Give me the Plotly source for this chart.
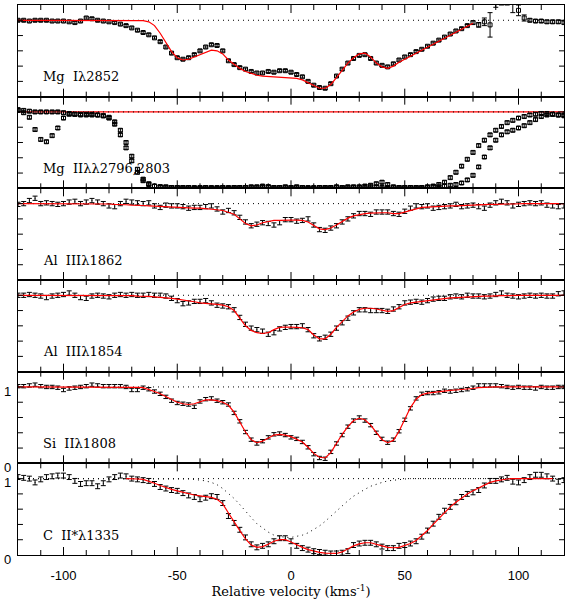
import plotly.graph_objects as go
from plotly.subplots import make_subplots

# velocity grid (km/s), 2.5 km/s sampling
V = [-120 + 2.5 * i for i in range(97)]

PANEL_LABELS = ["Mg\u00a0\u00a0I\u03bb2852", "Mg\u00a0\u00a0II\u03bb\u03bb2796,2803",
                "Al\u00a0\u00a0III\u03bb1862", "Al\u00a0\u00a0III\u03bb1854",
                "Si\u00a0\u00a0II\u03bb1808", "C\u00a0\u00a0II*\u03bb1335"]
X_TICKS = [-100, -50, 0, 50, 100]
X_TICKTEXT = ["-100", "-50", "0", "50", "100"]
X_MINOR_STEP = 10
Y_TICKS = [0, 0.2, 0.4, 0.6, 0.8, 1.0]
X_RANGE = [-120, 120]
Y_RANGE = [0, 1.2]
CONTINUUM = 1.0

# ---- Mg I 2852 ----
MG1_FLUX = [1.00, 1.00, 0.99, 1.00, 1.00, 1.00, 0.99, 0.99, 0.99, 0.98,
            0.97, 0.99, 1.03, 1.02, 1.00, 0.99, 0.98, 0.97, 0.95, 0.93,
            0.90, 0.87, 0.84, 0.81, 0.77, 0.72, 0.65, 0.57, 0.51, 0.49,
            0.51, 0.55, 0.60, 0.65, 0.68, 0.67, 0.60, 0.47, 0.42, 0.38,
            0.36, 0.33, 0.31, 0.31, 0.33, 0.32, 0.34, 0.34, 0.32, 0.29,
            0.26, 0.20, 0.15, 0.12, 0.11, 0.17, 0.27, 0.36, 0.44, 0.50,
            0.54, 0.55, 0.50, 0.44, 0.41, 0.39, 0.43, 0.48, 0.52, 0.55,
            0.59, 0.62, 0.66, 0.70, 0.74, 0.78, 0.82, 0.86, 0.89, 0.93,
            0.97, 0.94, 0.98, 0.94, 1.32, 1.40, 1.40, 1.30, 1.13, 1.03,
            1.00, 0.99, 0.99, 0.98, 0.98, 0.98, 0.97]
MG1_ERR = [0.015] * 80 + [0.02, 0.03, 0.05, 0.16, 0.15, 0.20, 0.20, 0.20, 0.07, 0.04,
                          0.02, 0.02, 0.02, 0.02, 0.02, 0.02, 0.02]
MG1_MODEL = [1.0, 1.0, 1.0, 1.0, 1.0, 1.0, 1.0, 1.0, 1.0, 1.0,
             1.0, 1.0, 1.0, 1.0, 1.0, 1.0, 1.0, 1.0, 1.0, 1.0,
             1.0, 1.0, 0.995, 0.98, 0.93, 0.83, 0.71, 0.59, 0.51, 0.48,
             0.49, 0.52, 0.55, 0.59, 0.61, 0.60, 0.56, 0.48, 0.42, 0.37,
             0.33, 0.30, 0.28, 0.27, 0.265, 0.26, 0.26, 0.255, 0.25, 0.24,
             0.22, 0.18, 0.14, 0.11, 0.11, 0.16, 0.25, 0.35, 0.44, 0.51,
             0.56, 0.57, 0.52, 0.44, 0.39, 0.37, 0.40, 0.45, 0.49, 0.53,
             0.57, 0.61, 0.65, 0.69, 0.73, 0.77, 0.81, 0.85, 0.89, 0.93,
             0.96, None, None, None, None, None, None, None, None, None,
             None, None, None, None, None, None, None]

# ---- Mg II 2796, 2803 ----
MG2_FLUX_A = [1.02, 0.99, 0.93, 0.77, 0.64, 0.61, 0.69, 0.79, 0.92, 0.97,
              0.97, 0.97, 0.97, 0.97, 0.96, 0.95, 0.93, 0.87, 0.76, 0.60,
              0.42, 0.25, 0.12, 0.06, 0.03, 0.02, 0.02, 0.01, 0.01, 0.01,
              0.01, 0.01, 0.00, 0.01, 0.01, 0.00, 0.01, 0.01, 0.01, 0.01,
              0.01, 0.01, 0.02, 0.03, 0.02, 0.01, 0.01, 0.02, 0.01, 0.01,
              0.01, 0.00, 0.01, 0.01, 0.01, 0.01, 0.02, 0.01, 0.01, 0.02,
              0.02, 0.03, 0.04, 0.06, 0.08, 0.05, 0.02, 0.01, 0.01, 0.01,
              0.01, 0.01, 0.02, 0.03, 0.05, 0.08, 0.14, 0.21, 0.29, 0.38,
              0.47, 0.56, 0.63, 0.70, 0.76, 0.81, 0.86, 0.89, 0.92, 0.94,
              0.96, 0.97, 0.98, 0.98, 0.97, 0.96, 0.96]
MG2_FLUX_B = [1.03, 1.02, 1.01, 1.00, 1.00, 1.00, 1.00, 1.00, 0.99, 0.98,
              0.97, 0.96, 0.96, 0.96, 0.96, 0.95, 0.92, 0.84, 0.70, 0.53,
              0.36, 0.21, 0.10, 0.05, 0.03, 0.02, 0.01, 0.01, 0.01, 0.01,
              0.01, 0.00, 0.01, 0.01, 0.00, 0.01, 0.01, 0.00, 0.01, 0.01,
              0.01, 0.02, 0.01, 0.01, 0.02, 0.01, 0.01, 0.01, 0.01, 0.02,
              0.01, 0.01, 0.00, 0.01, 0.01, 0.01, 0.01, 0.01, 0.02, 0.01,
              0.01, 0.01, 0.02, 0.02, 0.01, 0.01, 0.01, 0.01, 0.01, 0.01,
              0.01, 0.01, 0.01, 0.02, 0.02, 0.03, 0.04, 0.05, 0.07, 0.11,
              0.17, 0.28, 0.41, 0.53, 0.63, 0.70, 0.74, 0.76, 0.79, 0.82,
              0.86, 0.90, 0.94, 0.96, 0.97, 0.96, 0.95]
MG2_MODEL = [1.0] * 97

# ---- Al III 1862 ----
AL62_FLUX = [0.99, 1.00, 1.04, 1.07, 1.00, 1.01, 1.00, 0.99, 1.00, 1.02,
             1.03, 1.00, 1.02, 1.04, 1.02, 1.00, 0.97, 0.96, 1.00, 1.03,
             1.02, 1.01, 1.00, 1.01, 0.97, 0.95, 0.98, 0.97, 0.97, 0.96,
             0.94, 0.95, 0.95, 0.96, 0.97, 0.93, 0.89, 0.91, 0.88, 0.82,
             0.76, 0.71, 0.73, 0.75, 0.74, 0.72, 0.75, 0.79, 0.79, 0.77,
             0.78, 0.80, 0.72, 0.66, 0.65, 0.68, 0.71, 0.76, 0.80, 0.84,
             0.87, 0.87, 0.86, 0.89, 0.89, 0.89, 0.87, 0.86, 0.90, 0.94,
             0.97, 0.96, 0.97, 0.94, 0.95, 0.96, 0.97, 0.99, 0.96, 0.97,
             0.98, 0.96, 0.94, 0.98, 1.01, 1.03, 1.01, 0.97, 0.99, 1.00,
             1.01, 1.00, 1.01, 0.98, 0.97, 0.96, 0.97]
AL62_MODEL = [1.0, 1.0, 1.0, 1.0, 1.0, 1.0, 1.0, 1.0, 1.0, 1.0,
              1.0, 1.0, 1.0, 1.0, 1.0, 1.0, 0.995, 0.99, 0.99, 0.985,
              0.98, 0.98, 0.975, 0.97, 0.965, 0.96, 0.96, 0.955, 0.95, 0.95,
              0.945, 0.94, 0.94, 0.935, 0.93, 0.92, 0.91, 0.89, 0.86, 0.80,
              0.74, 0.71, 0.72, 0.75, 0.77, 0.78, 0.78, 0.785, 0.785, 0.785,
              0.78, 0.76, 0.71, 0.67, 0.66, 0.68, 0.72, 0.77, 0.81, 0.84,
              0.86, 0.87, 0.875, 0.88, 0.88, 0.88, 0.87, 0.87, 0.89, 0.92,
              0.94, 0.95, 0.955, 0.96, 0.96, 0.965, 0.97, 0.97, 0.975, 0.98,
              0.98, 0.985, 0.985, 0.99, 0.99, 0.995, 0.995, 0.995, 1.0, 1.0,
              1.0, 1.0, 1.0, 1.0, 1.0, 1.0, 1.0]

# ---- Al III 1854 ----
AL54_FLUX = [1.00, 1.00, 1.01, 1.00, 0.99, 0.97, 0.99, 1.00, 1.01, 1.03,
             1.00, 0.97, 0.96, 0.99, 1.00, 0.99, 0.98, 1.00, 1.01, 1.00,
             1.01, 1.00, 1.00, 1.01, 1.00, 1.00, 0.99, 0.96, 0.93, 0.89,
             0.90, 0.92, 0.92, 0.93, 0.90, 0.87, 0.86, 0.85, 0.81, 0.71,
             0.62, 0.57, 0.55, 0.53, 0.49, 0.51, 0.56, 0.58, 0.59, 0.59,
             0.60, 0.55, 0.47, 0.43, 0.45, 0.49, 0.57, 0.64, 0.70, 0.77,
             0.81, 0.81, 0.80, 0.80, 0.80, 0.79, 0.82, 0.85, 0.90, 0.91,
             0.92, 0.91, 0.93, 0.95, 0.96, 0.96, 0.98, 0.99, 0.98, 1.00,
             0.99, 0.99, 0.98, 0.99, 1.01, 1.03, 1.00, 0.99, 0.98, 0.99,
             1.00, 0.99, 1.00, 0.99, 0.99, 1.02, 1.03]
AL54_MODEL = [1.0, 1.0, 1.0, 1.0, 1.0, 1.0, 1.0, 1.0, 1.0, 1.0,
              1.0, 1.0, 1.0, 1.0, 1.0, 1.0, 1.0, 1.0, 1.0, 1.0,
              0.995, 0.99, 0.99, 0.985, 0.98, 0.975, 0.97, 0.96, 0.95, 0.94,
              0.93, 0.915, 0.90, 0.895, 0.89, 0.88, 0.87, 0.85, 0.80, 0.70,
              0.60, 0.54, 0.51, 0.50, 0.51, 0.55, 0.58, 0.585, 0.585, 0.58,
              0.575, 0.55, 0.48, 0.43, 0.43, 0.49, 0.58, 0.66, 0.73, 0.78,
              0.815, 0.83, 0.83, 0.82, 0.80, 0.79, 0.80, 0.84, 0.88, 0.90,
              0.91, 0.92, 0.93, 0.94, 0.95, 0.96, 0.965, 0.97, 0.975, 0.98,
              0.985, 0.99, 0.99, 0.99, 0.995, 0.995, 0.995, 1.0, 1.0, 1.0,
              1.0, 1.0, 1.0, 1.0, 1.0, 1.0, 1.0]

# ---- Si II 1808 ----
SI_FLUX = [1.01, 1.01, 1.02, 1.03, 1.01, 1.00, 1.00, 0.99, 0.96, 0.98,
           0.99, 1.00, 1.01, 1.03, 1.02, 1.01, 1.01, 1.01, 1.01, 1.00,
           0.96, 0.96, 0.99, 0.97, 0.94, 0.91, 0.87, 0.82, 0.79, 0.78,
           0.77, 0.74, 0.81, 0.84, 0.85, 0.82, 0.80, 0.77, 0.66, 0.55,
           0.41, 0.31, 0.26, 0.29, 0.34, 0.38, 0.39, 0.37, 0.34, 0.32,
           0.28, 0.21, 0.12, 0.07, 0.06, 0.15, 0.26, 0.37, 0.48, 0.56,
           0.60, 0.56, 0.50, 0.40, 0.32, 0.27, 0.31, 0.42, 0.57, 0.72,
           0.85, 0.91, 0.92, 0.92, 0.93, 0.95, 0.94, 0.95, 0.96, 0.97,
           0.99, 1.02, 1.02, 1.02, 1.02, 1.01, 1.00, 0.99, 1.00, 0.99,
           0.99, 0.98, 1.00, 0.99, 0.99, 1.00, 1.00]
SI_MODEL = [1.0, 1.0, 1.0, 1.0, 1.0, 1.0, 1.0, 1.0, 1.0, 1.0,
            1.0, 1.0, 1.0, 1.0, 1.0, 1.0, 1.0, 1.0, 1.0, 1.0,
            1.0, 0.995, 0.99, 0.97, 0.94, 0.91, 0.87, 0.83, 0.80, 0.78,
            0.77, 0.78, 0.81, 0.83, 0.83, 0.82, 0.80, 0.76, 0.67, 0.54,
            0.41, 0.31, 0.27, 0.29, 0.33, 0.37, 0.38, 0.37, 0.35, 0.32,
            0.28, 0.21, 0.13, 0.08, 0.07, 0.14, 0.26, 0.38, 0.48, 0.56,
            0.59, 0.57, 0.50, 0.40, 0.31, 0.27, 0.30, 0.42, 0.58, 0.73,
            0.84, 0.90, 0.92, 0.93, 0.94, 0.95, 0.955, 0.96, 0.965, 0.97,
            0.98, 0.99, 0.995, 1.0, 1.0, 1.0, 1.0, 1.0, 1.0, 1.0,
            1.0, 1.0, 1.0, 1.0, 1.0, 1.0, 1.0]

# ---- C II* 1335 ----
C2_FLUX = [1.02, 1.01, 1.00, 0.95, 0.99, 1.02, 1.03, 1.04, 1.04, 1.02,
           0.97, 0.93, 0.94, 0.94, 0.90, 0.94, 0.99, 1.02, 1.04, 1.03,
           1.00, 0.99, 0.98, 0.97, 0.93, 0.89, 0.87, 0.85, 0.84, 0.81,
           0.78, 0.76, 0.73, 0.75, 0.77, 0.76, 0.68, 0.51, 0.42, 0.33,
           0.23, 0.14, 0.10, 0.12, 0.14, 0.18, 0.22, 0.22, 0.18, 0.12,
           0.09, 0.07, 0.05, 0.04, 0.03, 0.02, 0.02, 0.03, 0.05, 0.13,
           0.15, 0.16, 0.16, 0.14, 0.11, 0.09, 0.09, 0.12, 0.13, 0.15,
           0.18, 0.24, 0.32, 0.41, 0.50, 0.58, 0.63, 0.69, 0.76, 0.80,
           0.82, 0.85, 0.91, 0.97, 0.97, 0.99, 1.01, 0.96, 0.95, 0.98,
           1.02, 1.05, 1.05, 1.03, 1.00, 0.96, 0.98]
C2_MODEL = [None, None, None, None, None, None, None, None, None, None,
            None, None, None, None, None, None, None, None, None, 1.0,
            1.0, 0.995, 0.99, 0.97, 0.94, 0.91, 0.88, 0.86, 0.84, 0.82,
            0.80, 0.785, 0.775, 0.765, 0.755, 0.73, 0.67, 0.55, 0.43, 0.32,
            0.21, 0.13, 0.10, 0.11, 0.14, 0.18, 0.20, 0.20, 0.17, 0.13,
            0.10, 0.07, 0.05, 0.035, 0.025, 0.02, 0.02, 0.04, 0.08, 0.12,
            0.145, 0.16, 0.16, 0.145, 0.12, 0.10, 0.095, 0.10, 0.12, 0.15,
            0.19, 0.25, 0.32, 0.40, 0.48, 0.56, 0.63, 0.69, 0.75, 0.80,
            0.84, 0.88, 0.92, 0.95, 0.97, 0.985, 0.995, 1.0, 1.0, 1.0,
            1.0, 1.0, 1.0, 1.0, 1.0, None, None]
C2_COMPONENT = [1.0, 1.0, 1.0, 1.0, 1.0, 1.0, 1.0, 1.0, 1.0, 1.0,
                1.0, 1.0, 1.0, 1.0, 1.0, 1.0, 1.0, 1.0, 1.0, 1.0,
                1.0, 1.0, 1.0, 1.0, 1.0, 1.0, 1.0, 1.0, 1.0, 1.0,
                0.995, 0.99, 0.98, 0.97, 0.95, 0.92, 0.87, 0.81, 0.74, 0.66,
                0.57, 0.49, 0.41, 0.35, 0.30, 0.26, 0.24, 0.23, 0.23, 0.24,
                0.26, 0.29, 0.33, 0.38, 0.44, 0.51, 0.58, 0.65, 0.71, 0.77,
                0.82, 0.86, 0.90, 0.93, 0.95, 0.97, 0.98, 0.99, 0.995, 1.0,
                1.0, 1.0, 1.0, 1.0, 1.0, 1.0, 1.0, 1.0, 1.0, 1.0,
                1.0, 1.0, 1.0, 1.0, 1.0, 1.0, 1.0, 1.0, 1.0, 1.0,
                1.0, 1.0, 1.0, 1.0, 1.0, 1.0, 1.0]

ERR_MG2 = 0.02
ERR_AL62 = 0.028
ERR_AL54 = 0.028
ERR_SI = 0.022
ERR_C2 = 0.032

SERIF = "DejaVu Serif"
SANS = "Liberation Sans, Arial, sans-serif"
DOT = "1px,4px"

# figure geometry (px) used to express tick lengths in axis units
W, H = 569, 603
M = dict(l=14, r=4, t=5, b=48)
NROWS = 6
PX_PER_Y = (H - M["t"] - M["b"]) / NROWS / (Y_RANGE[1] - Y_RANGE[0])
PX_PER_X = (W - M["l"] - M["r"]) / (X_RANGE[1] - X_RANGE[0])
MAJOR_LEN = 8 / PX_PER_Y
MINOR_LEN = 5 / PX_PER_Y
YTICK_LEN = 5 / PX_PER_X

fig = make_subplots(rows=NROWS, cols=1, shared_xaxes=True, vertical_spacing=0)


def add_cont(row):
    fig.add_trace(go.Scatter(x=X_RANGE, y=[CONTINUUM, CONTINUUM], mode="lines",
                             line=dict(color="black", width=1, dash=DOT),
                             hoverinfo="skip", showlegend=False), row=row, col=1)


def add_data(row, flux, err, squares=False):
    if squares:
        marker = dict(symbol="square-open", size=4, color="black", line=dict(width=1, color="black"))
    else:
        marker = dict(size=1, color="black")
    if isinstance(err, list):
        ey = dict(type="data", array=err, visible=True, color="black", thickness=1, width=2.5)
    else:
        ey = dict(type="constant", value=err, visible=True, color="black", thickness=1, width=2.5)
    fig.add_trace(go.Scatter(x=V, y=flux, mode="markers", marker=marker, error_y=ey,
                             showlegend=False, cliponaxis=True), row=row, col=1)


def add_model(row, model):
    fig.add_trace(go.Scatter(x=V, y=model, mode="lines", line=dict(color="red", width=1.2),
                             connectgaps=False, showlegend=False), row=row, col=1)


def add_ticks(row):
    # inside tick marks on all four sides, placed at the axis tick values
    xs, ys = [], []
    minor = [v for v in range(X_RANGE[0] + X_MINOR_STEP, X_RANGE[1], X_MINOR_STEP) if v not in X_TICKS]
    for v, ln in [(t, MAJOR_LEN) for t in X_TICKS] + [(t, MINOR_LEN) for t in minor]:
        xs += [v, v, None, v, v, None]
        ys += [Y_RANGE[0], Y_RANGE[0] + ln, None, Y_RANGE[1], Y_RANGE[1] - ln, None]
    for t in Y_TICKS[1:]:
        xs += [X_RANGE[0], X_RANGE[0] + YTICK_LEN, None, X_RANGE[1], X_RANGE[1] - YTICK_LEN, None]
        ys += [t, t, None, t, t, None]
    fig.add_trace(go.Scatter(x=xs, y=ys, mode="lines", line=dict(color="black", width=1),
                             hoverinfo="skip", showlegend=False), row=row, col=1)


# row 1: Mg I
add_cont(1)
add_data(1, MG1_FLUX, MG1_ERR, squares=True)
add_model(1, MG1_MODEL)
# row 2: Mg II
add_model(2, MG2_MODEL)
add_cont(2)
add_data(2, MG2_FLUX_A, ERR_MG2, squares=True)
add_data(2, MG2_FLUX_B, ERR_MG2, squares=True)
# row 3: Al III 1862
add_cont(3)
add_data(3, AL62_FLUX, ERR_AL62)
add_model(3, AL62_MODEL)
# row 4: Al III 1854
add_cont(4)
add_data(4, AL54_FLUX, ERR_AL54)
add_model(4, AL54_MODEL)
# row 5: Si II
add_cont(5)
add_data(5, SI_FLUX, ERR_SI)
add_model(5, SI_MODEL)
# row 6: C II*
add_cont(6)
fig.add_trace(go.Scatter(x=V, y=C2_COMPONENT, mode="lines",
                         line=dict(color="black", width=1, dash=DOT),
                         showlegend=False), row=6, col=1)
add_data(6, C2_FLUX, ERR_C2)
add_model(6, C2_MODEL)

for r in range(1, NROWS + 1):
    add_ticks(r)
    fig.update_xaxes(range=X_RANGE, tickmode="array", tickvals=X_TICKS, ticktext=X_TICKTEXT,
                     ticks="", mirror=True, showline=True, linecolor="black", linewidth=1.2,
                     showgrid=False, zeroline=False, showticklabels=(r == NROWS),
                     tickfont=dict(family=SANS, size=13, color="black"), row=r, col=1)
    ylab = ["0", "", "", "", "", "1"] if r >= 5 else [""] * 6
    fig.update_yaxes(range=Y_RANGE, tickmode="array", tickvals=Y_TICKS, ticktext=ylab,
                     ticks="", mirror=True, showline=True, linecolor="black", linewidth=1.2,
                     showgrid=False, zeroline=False, ticklabelshift=4, ticklabelstandoff=3,
                     tickfont=dict(family=SANS, size=13, color="black"), row=r, col=1)
    fig.add_annotation(text=PANEL_LABELS[r - 1], x=-110, y=0.26, xref="x%d" % r if r > 1 else "x",
                       yref="y%d" % r if r > 1 else "y", xanchor="left", yanchor="middle",
                       showarrow=False, font=dict(family=SERIF, size=13, color="black"))

fig.update_xaxes(title=dict(text="Relative velocity (kms<sup>-1</sup>)",
                            font=dict(family=SERIF, size=13, color="black"), standoff=4),
                 ticklabelstandoff=8, row=NROWS, col=1)

fig.update_layout(template="simple_white", width=W, height=H, margin=M,
                  paper_bgcolor="white", plot_bgcolor="white", showlegend=False)

fig.write_html("out.html")
